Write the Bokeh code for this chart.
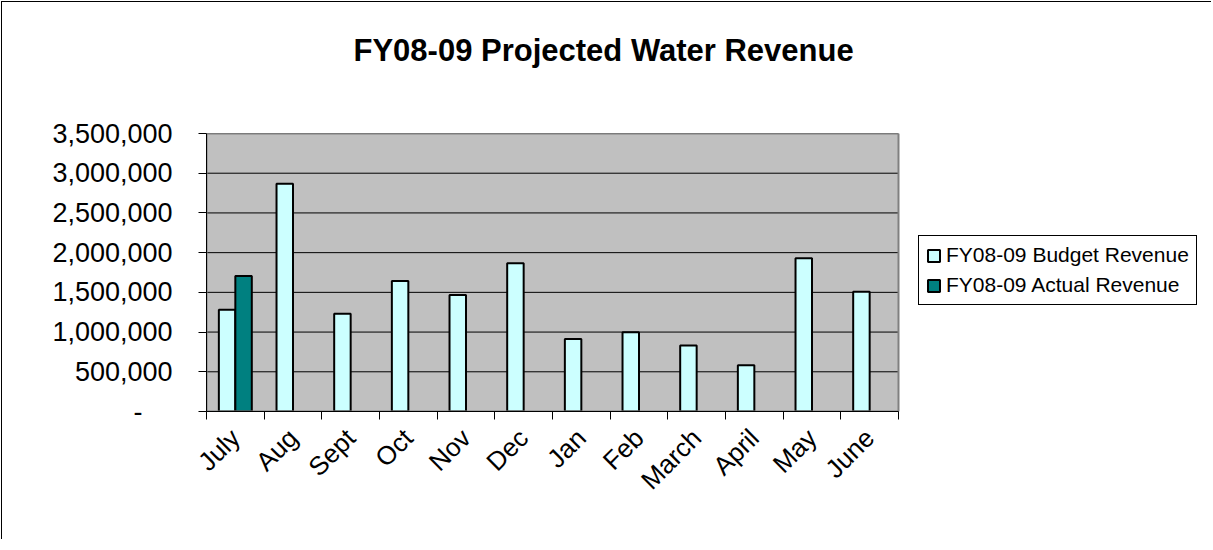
import numpy as np
from math import pi
from bokeh.plotting import figure
from bokeh.models import (ColumnDataSource, FixedTicker, CustomJSTickFormatter,
                          Legend, LegendItem, Range1d)
from bokeh.transform import dodge
from bokeh.embed import file_html
from bokeh.resources import INLINE

# ---------------- data ----------------
months = ["July", "Aug", "Sept", "Oct", "Nov", "Dec",
          "Jan", "Feb", "March", "April", "May", "June"]
budget = [1282000, 2867000, 1232000, 1643000, 1467000, 1865000,
          914000, 997000, 830000, 583000, 1928000, 1509000]
actual = [1706000, None, None, None, None, None,
          None, None, None, None, None, None]
y_ticks = [0, 500000, 1000000, 1500000, 2000000, 2500000, 3000000, 3500000]
y_tick_labels = ["-", "500,000", "1,000,000", "1,500,000", "2,000,000",
                 "2,500,000", "3,000,000", "3,500,000"]
title = "FY08-09 Projected Water Revenue"
series_names = ["FY08-09 Budget Revenue", "FY08-09 Actual Revenue"]

FONT = "Liberation Sans"

# layout (pixels)
W, H = 1210, 538
LEFT, RIGHT, TOP, BOTTOM = 204, 5, 131, 129
PLOT_W = 692                      # width of the grey plotting area
frame_w = W - LEFT - RIGHT
n = len(months)
x_end = n * frame_w / PLOT_W      # frame extends right to hold the legend
y_max = y_ticks[-1]

pos = np.arange(n) + 0.5
src_b = ColumnDataSource(dict(x=pos, top=budget))
idx = [i for i, v in enumerate(actual) if v is not None]
src_a = ColumnDataSource(dict(x=pos[idx], top=[actual[i] for i in idx]))

p = figure(width=W, height=H,
           x_range=Range1d(0, x_end), y_range=Range1d(0, y_max),
           output_backend="svg", toolbar_location=None,
           min_border_left=LEFT, min_border_right=RIGHT,
           min_border_top=TOP, min_border_bottom=BOTTOM)
p.styles = {"margin-left": "1px", "margin-top": "1px",
            "border-left": "1px solid #000", "border-top": "1px solid #000"}

p.background_fill_color = "white"
p.border_fill_color = "white"
p.outline_line_color = None

# grey plot area, grid lines
p.quad(left=[0], right=[n], bottom=[0], top=[y_max],
       fill_color="#C0C0C0", line_color=None)
p.segment(x0=[0] * len(y_ticks), x1=[n] * len(y_ticks), y0=y_ticks, y1=y_ticks,
          line_color="black", line_width=1)

bw = 1 / 3.5
rb = p.vbar(x=dodge("x", -bw / 2, range=p.x_range), top="top", width=bw,
            source=src_b, fill_color="#CCFFFF", line_color="black", line_width=2)
ra = p.vbar(x=dodge("x", bw / 2, range=p.x_range), top="top", width=bw,
            source=src_a, fill_color="#008080", line_color="black", line_width=2)

# plot-area border
p.quad(left=[0], right=[n], bottom=[0], top=[y_max],
       fill_color=None, line_color="#808080", line_width=2)

# title
p.title.text = title
p.title.text_font = FONT
p.title.text_font_size = "31px"
p.title.text_font_style = "bold"
p.title.text_color = "black"
p.title.align = "left"
p.title.offset = 147
p.title.standoff = 0
p.title.padding = dict(top=0, right=0, bottom=66, left=0)

# y axis
yt = FixedTicker(ticks=y_ticks)
p.yaxis.ticker = yt
lbl = {t: s for t, s in zip(y_ticks, y_tick_labels)}
lbl[0] = "-" + "\u00a0" * 4
p.yaxis.major_label_overrides = lbl
p.yaxis.major_label_text_font = FONT
p.yaxis.major_label_text_font_size = "27px"
p.yaxis.major_label_text_color = "black"
p.yaxis.axis_line_color = "black"
p.yaxis.major_tick_line_color = "black"
p.yaxis.major_tick_out = 8
p.yaxis.major_tick_in = 0
p.yaxis.minor_tick_line_color = None
p.yaxis.major_label_standoff = 26

# x axis: labels at category centres, tick marks at category boundaries
p.xaxis.bounds = (0, n)
p.xaxis.ticker = FixedTicker(ticks=list(pos),
                             minor_ticks=list(range(n + 1)))
p.xaxis.formatter = CustomJSTickFormatter(args=dict(months=months),
                                          code="return months[Math.round(tick - 0.5)];")
p.xaxis.major_label_orientation = pi / 4
p.xaxis.major_label_text_font = FONT
p.xaxis.major_label_text_font_size = "26px"
p.xaxis.major_label_text_color = "black"
p.xaxis.axis_line_color = "black"
p.xaxis.major_tick_line_color = None
p.xaxis.major_tick_out = 0
p.xaxis.major_tick_in = 0
p.xaxis.minor_tick_line_color = "black"
p.xaxis.minor_tick_out = 8
p.xaxis.minor_tick_in = 0
p.xaxis.major_label_standoff = 14

p.xgrid.visible = False
p.ygrid.visible = False

legend = Legend(items=[LegendItem(label=series_names[0], renderers=[rb]),
                       LegendItem(label=series_names[1], renderers=[ra])],
                location=(PLOT_W + 20, 106))
legend.label_text_font = FONT
legend.label_text_font_size = "21px"
legend.label_text_color = "black"
legend.glyph_width = 15
legend.glyph_height = 15
legend.label_standoff = 5
legend.padding = 7
legend.spacing = 6
legend.margin = 0
legend.border_line_color = "black"
legend.border_line_alpha = 1
legend.border_line_width = 1
legend.background_fill_color = "white"
legend.background_fill_alpha = 1
p.add_layout(legend, "center")

open("out.html", "w").write(file_html(p, INLINE))
